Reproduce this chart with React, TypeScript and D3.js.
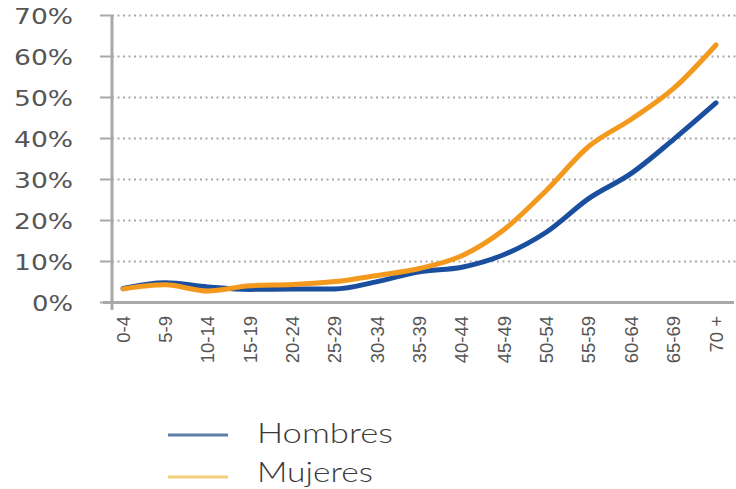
import React from "react";
import * as d3 from "d3";

const categories = ["0-4", "5-9", "10-14", "15-19", "20-24", "25-29", "30-34", "35-39", "40-44", "45-49", "50-54", "55-59", "60-64", "65-69", "70 +"];
const hombres = [3.4, 4.8, 3.8, 3.2, 3.3, 3.3, 5.1, 7.5, 8.6, 11.7, 17.2, 25.4, 31.5, 39.8, 48.7];
const mujeres = [3.3, 4.3, 2.8, 4.1, 4.4, 5.1, 6.6, 8.3, 11.4, 17.8, 27.4, 38.1, 44.7, 52.2, 62.8];
const yTicks = [0, 10, 20, 30, 40, 50, 60, 70];
const legendLabels = ["Hombres", "Mujeres"];

const W = 736, H = 489;

export default function App() {
  const x = d3.scalePoint<string>().domain(categories).range([123, 716]);
  const y = d3.scaleLinear().domain([0, 70]).range([302.5, 15.5]);
  const line = d3
    .line<number>()
    .x((_, i) => x(categories[i]) as number)
    .y((d) => y(d))
    .curve(d3.curveMonotoneX);

  const grey = "#a9a9a9";
  const textCol = "#555";
  return (
    <svg width={W} height={H} style={{ position: "absolute", left: 0, top: 0, background: "#fff" }}>
      {yTicks.map((t) => (
        <g key={t}>
          {t > 0 && (
            <line x1={112} x2={736} y1={y(t)} y2={y(t)} stroke={grey} strokeWidth={2} strokeDasharray="2 3.5" />
          )}
          <line x1={100} x2={112} y1={y(t)} y2={y(t)} stroke={grey} strokeWidth={2} />
          <text
            x={73}
            y={y(t) + 1}
            textAnchor="end"
            dominantBaseline="central"
            fontFamily="'DejaVu Sans', sans-serif"
            fontSize={21.5}
            fill={textCol}
            textLength={t === 0 ? 41 : 59}
            lengthAdjust="spacingAndGlyphs"
          >
            {t + "%"}
          </text>
        </g>
      ))}
      <line x1={112} x2={112} y1={15} y2={310} stroke={grey} strokeWidth={3} />
      <line x1={103} x2={734} y1={302.5} y2={302.5} stroke={grey} strokeWidth={3} />
      {categories.map((c) => (
        <text
          key={c}
          transform={`translate(${x(c)},316) rotate(-90)`}
          textAnchor="end"
          dominantBaseline="central"
          fontFamily="'Liberation Sans', Arial, sans-serif"
          fontSize={18.5}
          fill={textCol}
        >
          {c}
        </text>
      ))}
      <path d={line(hombres) || ""} fill="none" stroke="#1a4f9f" strokeWidth={5} strokeLinecap="round" strokeLinejoin="round" />
      <path d={line(mujeres) || ""} fill="none" stroke="#f39a1e" strokeWidth={5} strokeLinecap="round" strokeLinejoin="round" />
      {legendLabels.map((l, i) => (
        <g key={l}>
          <line x1={168} x2={228} y1={435 + i * 42} y2={435 + i * 42} stroke={i === 0 ? "#5b7fa6" : "#f3cf7c"} strokeWidth={3} />
          <text
            x={257}
            y={443 + i * 39}
            fontFamily="Lato, 'Open Sans', sans-serif"
            fontWeight={300}
            fontSize={28}
            fill="#3a3a3a"
            textLength={i === 0 ? 136 : 116}
            lengthAdjust="spacingAndGlyphs"
          >
            {l}
          </text>
        </g>
      ))}
    </svg>
  );
}
